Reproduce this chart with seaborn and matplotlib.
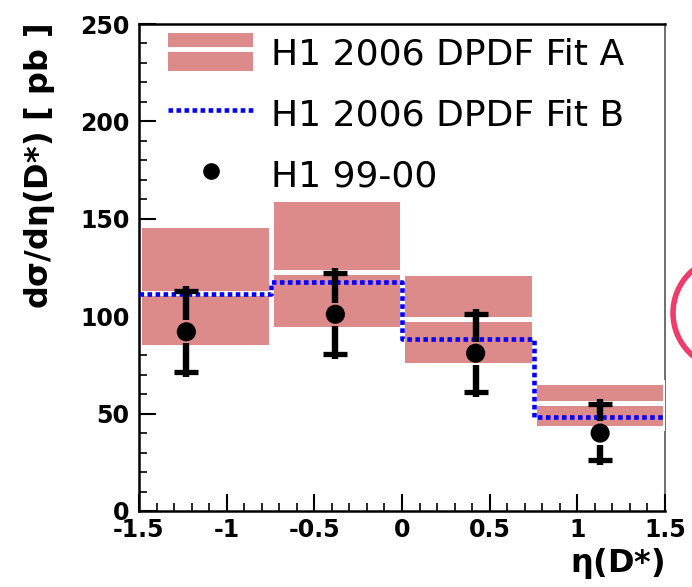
import numpy as np
import matplotlib
matplotlib.use("Agg")
import matplotlib.pyplot as plt
import seaborn as sns
from matplotlib.patches import Patch, Ellipse
from matplotlib.lines import Line2D
from matplotlib.ticker import MultipleLocator

sns.set_style("ticks")
plt.rcParams['font.family'] = ['DejaVu Sans']
plt.rcParams['text.color'] = 'black'
plt.rcParams['axes.labelcolor'] = 'black'
plt.rcParams['xtick.color'] = 'black'
plt.rcParams['ytick.color'] = 'black'

# bins in eta(D*)
eta_edges = [-1.5, -0.75, 0.0, 0.75, 1.5]

# H1 2006 DPDF Fit A: central value and uncertainty band
fitA_central = [112, 122.5, 98.5, 55.5]
fitA_upper = [147, 160, 122, 66]
fitA_lower = [84, 93.5, 75, 42.5]

# H1 2006 DPDF Fit B
fitB = [111.5, 117.5, 88.5, 48]

# H1 99-00 data
data_eta = [-1.23, -0.38, 0.42, 1.13]
data_xsec = [92, 101, 81, 40]
data_err_up = [21, 21, 20, 15]
data_err_down = [20.5, 20.5, 20, 14]

band_color = '#dd8a8a'

fig = plt.figure(figsize=(6.92, 5.87), dpi=100)
ax = fig.add_axes([139/692, 1 - 511/587, 526/692, 487/587])

edges = np.array(eta_edges)
centers = (edges[:-1] + edges[1:]) / 2
widths = np.diff(edges)
cen = np.array(fitA_central)

# band drawn as two halves so the white outline gives the central line
ax.bar(centers, np.array(fitA_upper) - cen, bottom=cen, width=widths,
       color=band_color, edgecolor='white', linewidth=3.6, zorder=1)
ax.bar(centers, cen - np.array(fitA_lower), bottom=np.array(fitA_lower), width=widths,
       color=band_color, edgecolor='white', linewidth=3.6, zorder=1)

# Fit B as a step line
sns.lineplot(x=eta_edges, y=fitB + [fitB[-1]], drawstyle='steps-post', ax=ax,
             color='#0000ff', linewidth=3.3, dashes=False, zorder=3, sort=False)
ax.lines[-1].set_dashes([1.0, 0.75])
ax.lines[-1].set_dash_capstyle('butt')

# data points: caps, then stems that stop just short of the marker
x_d = np.array(data_eta)
y_d = np.array(data_xsec)
up = y_d + np.array(data_err_up)
lo = y_d - np.array(data_err_down)
gap = 6.0   # clearance around the marker, in pb
ext = 2.5   # stem runs a little past the caps
ax.errorbar(x_d, y_d, yerr=[data_err_down, data_err_up], fmt='none',
            ecolor='black', elinewidth=0, capsize=8.5, capthick=3.8, zorder=4)
ax.vlines(x_d, y_d + gap, up + ext, color='black', linewidth=4.6, zorder=4)
ax.vlines(x_d, lo - ext, y_d - gap, color='black', linewidth=4.6, zorder=4)
sns.scatterplot(x=data_eta, y=data_xsec, ax=ax, color='black', s=190,
                edgecolor='none', zorder=5)

ax.set_xlim(-1.5, 1.5)
ax.set_ylim(0, 250)
ax.xaxis.set_major_locator(MultipleLocator(0.5))
ax.xaxis.set_minor_locator(MultipleLocator(0.1))
ax.yaxis.set_major_locator(MultipleLocator(50))
ax.yaxis.set_minor_locator(MultipleLocator(10))
ax.set_xticks([-1.5, -1, -0.5, 0, 0.5, 1, 1.5])
ax.set_xticklabels(['-1.5', '-1', '-0.5', '0', '0.5', '1', '1.5'])
ax.tick_params(which='major', direction='in', length=12, width=1.5,
               labelsize=17, colors='black')
ax.tick_params(which='minor', direction='in', length=6, width=1.2)
ax.tick_params(axis='y', pad=7)
ax.tick_params(axis='x', pad=5)
plt.setp(ax.get_xticklabels(), fontweight='bold')
plt.setp(ax.get_yticklabels(), fontweight='bold')

for side in ['left', 'bottom', 'top']:
    ax.spines[side].set_color('black')
    ax.spines[side].set_linewidth(1.8)
ax.spines['right'].set_color('#555555')
ax.spines['right'].set_linewidth(1.2)
ax.spines['right'].set_zorder(0.5)

ax.set_ylabel(r'd$\mathbf{\sigma}$/d$\mathbf{\eta}$(D*) [ pb ]', fontsize=23,
              fontweight='bold', loc='top')
ax.yaxis.set_label_coords(-0.155, 1.0)
ax.set_xlabel(r'$\mathbf{\eta}$(D*)', fontsize=23, fontweight='bold', loc='right')
ax.xaxis.set_label_coords(1.0, -0.072)

# legend
hA = (Patch(facecolor=band_color, edgecolor='none'),
      Line2D([], [], color='white', linewidth=3.5))
hB = Line2D([], [], color='#0000ff', linewidth=3.3, dashes=[1.0, 0.75])
hD = Line2D([], [], color='black', marker='o', markersize=11, linestyle='none')
ax.legend([hA, hB, hD],
          ['H1 2006 DPDF Fit A', 'H1 2006 DPDF Fit B', 'H1 99-00'],
          loc='upper left', bbox_to_anchor=(0.038, 1.0), frameon=False,
          fontsize=26, handlelength=2.36, handleheight=1.25,
          labelspacing=0.64, handletextpad=0.5, borderaxespad=0,
          borderpad=0.25)

# partial red circle at the right edge of the slide
fig.add_artist(Ellipse((729/692, 1 - 313/587), 2*56/692, 2*56/587,
                       transform=fig.transFigure, fill=False,
                       edgecolor='#ee3d6b', linewidth=4))

fig.savefig('out.png', dpi=100)
